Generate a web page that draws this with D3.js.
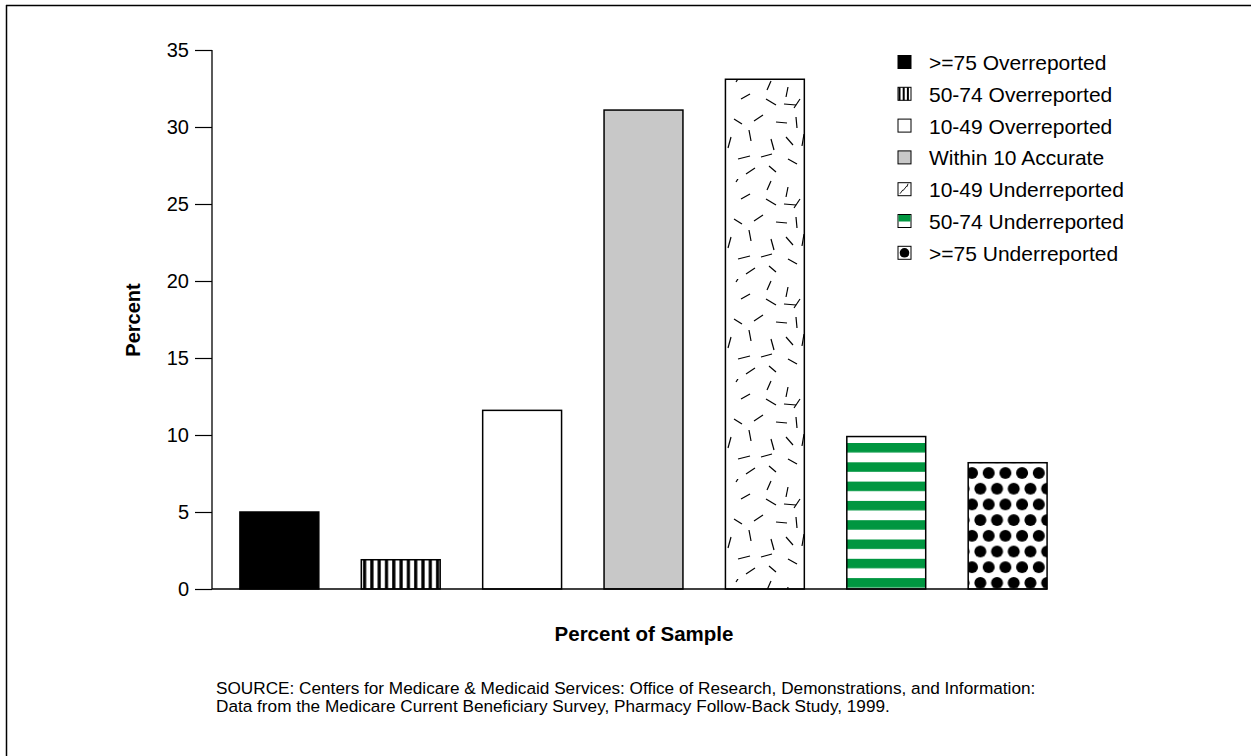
<!DOCTYPE html>
<html><head><meta charset="utf-8">
<script src="https://cdn.jsdelivr.net/npm/d3@7"></script>
<style>body{margin:0;background:#fff}svg{display:block}text{font-family:"Liberation Sans",Arial,sans-serif;fill:#000}</style>
</head><body><svg id="c" width="1251" height="756"></svg>
<script>
const categories = [">=75 Overreported","50-74 Overreported","10-49 Overreported","Within 10 Accurate","10-49 Underreported","50-74 Underreported",">=75 Underreported"];
const values = [5.0, 1.9, 11.6, 31.1, 33.1, 9.9, 8.2];
const yTicks = [0,5,10,15,20,25,30,35];
const fills = ["#000","url(#vstripe)","#fff","#c8c8c8","url(#dash)","url(#gstripe)","url(#dots)"];
const swatchFills = ["#000","#fff","#fff","#c8c8c8","#fff","#fff","#fff"];

const svg = d3.select("#c");
const defs = svg.append("defs");
// vertical stripes
let p = defs.append("pattern").attr("id","vstripe").attr("patternUnits","userSpaceOnUse").attr("width",7.3).attr("height",10).attr("x",361);
p.append("rect").attr("width",7.3).attr("height",10).attr("fill","#fff");
p.append("rect").attr("x",2).attr("width",3.2).attr("height",10).attr("fill","#000");
// green stripes
p = defs.append("pattern").attr("id","gstripe").attr("patternUnits","userSpaceOnUse").attr("width",10).attr("height",19.3).attr("y",443);
p.append("rect").attr("width",10).attr("height",19.3).attr("fill","#fff");
p.append("rect").attr("width",10).attr("height",9.5).attr("fill","#009640");
// dots
p = defs.append("pattern").attr("id","dots").attr("patternUnits","userSpaceOnUse").attr("width",16.7).attr("height",31.4).attr("x",972).attr("y",473);
p.append("rect").attr("width",16.7).attr("height",31.4).attr("fill","#fff");
[[0,0],[16.7,0],[8.35,15.7],[0,31.4],[16.7,31.4]].forEach(d=>p.append("circle").attr("cx",d[0]).attr("cy",d[1]).attr("r",6).attr("fill","#000"));
// dashes
const dashSegs = [[10,3,5,-8],[45,2,-4,9],[62,8,-2,10],[15,20,9,-5],[40,20,10,6],[58,25,12,1],[74,20,-6,9],
[8,40,8,5],[28,42,9,-6],[50,43,11,1],[70,38,1,11],[5,58,-3,11],[25,62,-2,-11],[45,60,3,11],[60,58,7,8],[78,55,-2,12],
[12,80,12,-3],[35,78,11,-3],[62,80,9,5],[20,95,9,-6],[50,93,-7,-6]];
p = defs.append("pattern").attr("id","dash").attr("patternUnits","userSpaceOnUse").attr("width",80).attr("height",100).attr("x",726).attr("y",79);
p.append("rect").attr("width",80).attr("height",100).attr("fill","#fff");
dashSegs.forEach(d=>p.append("line").attr("x1",d[0]).attr("y1",d[1]).attr("x2",d[0]+d[2]).attr("y2",d[1]+d[3]).attr("stroke","#000").attr("stroke-width",1.2));

// frame
svg.append("line").attr("x1",6).attr("y1",5.5).attr("x2",1251).attr("y2",5.5).attr("stroke","#000").attr("stroke-width",1.5);
svg.append("line").attr("x1",6.5).attr("y1",5).attr("x2",6.5).attr("y2",756).attr("stroke","#000").attr("stroke-width",1.5);

const y = d3.scaleLinear().domain([0,35]).range([589,50]);
const x = d3.scaleBand().domain(categories).range([212,1075]).paddingInner(0.35).paddingOuter(0.23);

// bars
svg.append("g").selectAll("rect").data(categories).join("rect")
  .attr("x",d=>x(d)).attr("width",x.bandwidth())
  .attr("y",(d,i)=>y(values[i])).attr("height",(d,i)=>y(0)-y(values[i]))
  .attr("fill",(d,i)=>fills[i]).attr("stroke","#000").attr("stroke-width",1.5);

// y axis
const ya = svg.append("g").attr("transform","translate(212,0)")
  .call(d3.axisLeft(y).tickValues(yTicks).tickSize(17).tickPadding(6));
ya.attr("font-size",null).attr("font-family",null);
ya.select(".domain").remove();
ya.selectAll(".tick line").attr("stroke","#000").attr("stroke-width",1.2);
ya.selectAll(".tick text").style("font-size","20px").style("font-family","'Liberation Sans', Arial, sans-serif").attr("fill","#000");
svg.append("line").attr("x1",212).attr("x2",212).attr("y1",y(35)).attr("y2",y(0)).attr("stroke","#000").attr("stroke-width",1.3);
svg.append("line").attr("x1",212).attr("x2",x(categories[6])+x.bandwidth()).attr("y1",y(0)).attr("y2",y(0)).attr("stroke","#000").attr("stroke-width",1.3);

// titles
svg.append("text").attr("x",644).attr("y",641).attr("text-anchor","middle").attr("font-size",20.5).attr("font-weight","bold").text("Percent of Sample");
svg.append("text").attr("transform","translate(140,320) rotate(-90)").attr("text-anchor","middle").attr("font-size",20).attr("font-weight","bold").text("Percent");

// legend
const lg = svg.append("g").selectAll("g").data(categories).join("g")
  .attr("transform",(d,i)=>`translate(898,${55.5+i*31.8})`);
lg.append("rect").attr("width",13).attr("height",13).attr("fill",(d,i)=>swatchFills[i]).attr("stroke","#000").attr("stroke-width",1);
const s1 = lg.filter((d,i)=>i===1);
[0.5,4.7,8.9].forEach(o=>s1.append("rect").attr("x",o).attr("y",0).attr("width",2).attr("height",13).attr("fill","#000"));
const s4 = lg.filter((d,i)=>i===4);
[[2,11,3,-4],[5,8,4,-5],[9,4,1,-3]].forEach(d=>s4.append("line").attr("x1",d[0]).attr("y1",d[1]).attr("x2",d[0]+d[2]).attr("y2",d[1]+d[3]).attr("stroke","#000").attr("stroke-width",0.9));
const s5 = lg.filter((d,i)=>i===5);
s5.append("rect").attr("x",0.5).attr("y",0.5).attr("width",12).attr("height",6.5).attr("fill","#009640");
const s6 = lg.filter((d,i)=>i===6);
s6.append("circle").attr("cx",6.5).attr("cy",6.5).attr("r",4.8).attr("fill","#000");
lg.append("text").attr("x",31).attr("y",14.5).attr("font-size",21).text(d=>d);

// source
const src = ["SOURCE: Centers for Medicare & Medicaid Services: Office of Research, Demonstrations, and Information:",
"Data from the Medicare Current Beneficiary Survey, Pharmacy Follow-Back Study, 1999."];
svg.append("g").selectAll("text").data(src).join("text").attr("x",216).attr("y",(d,i)=>694+i*18).attr("font-size",17.2).text(d=>d);
</script></body></html>
